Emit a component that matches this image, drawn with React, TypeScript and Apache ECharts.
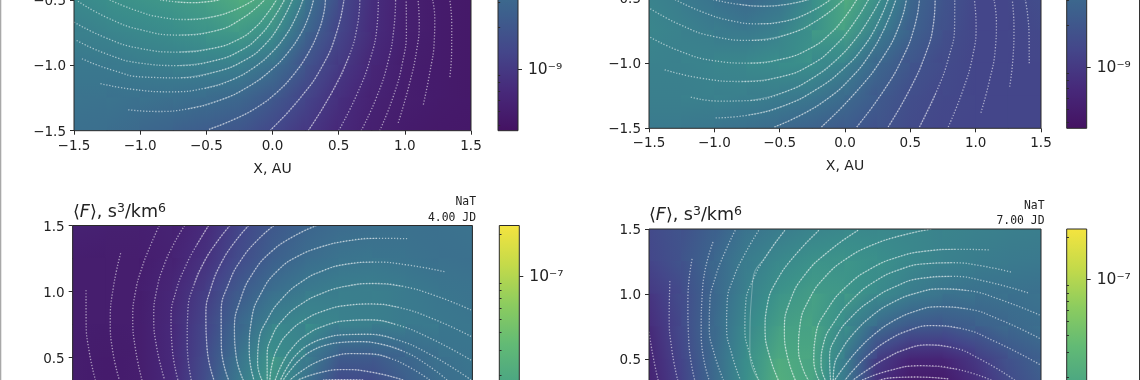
import React, { useEffect, useRef } from "react";
import * as echarts from "echarts";

// Axis ticks
const xTicksAU = [-1.5, 1.5];
const colorbarRange = [-9.44, -6.64]; // log10 F at bottom and top of colour bars
const majorLog = [-9, -8, -7];
const minorLog = [-9.398, -9.301, -9.222, -9.155, -9.097, -9.046, -8.699, -8.523, -8.398, -8.301, -8.222, -8.155, -8.097, -8.046, -7.699, -7.523, -7.398, -7.301, -7.222, -7.155, -7.097, -7.046, -6.699];
const majorLabels: Record<string, string> = { "-9": "10⁻⁹", "-8": "10⁻⁸", "-7": "10⁻⁷" };

// Colour ramp as it appears on the colour bars
const rampColors = ["#441262", "#47297a", "#44468a", "#3d608d", "#3a788e", "#3a8f8b", "#4aa583", "#62ba75", "#8ccc5f", "#c4da4a", "#f4e43f"];

// Field nodes
const xNodes = [-1.5, -1.25, -1, -0.75, -0.5, -0.25, 0, 0.25, 0.5, 0.75, 1, 1.25, 1.5];
const yNodesLower = [-0.5, -0.75, -1, -1.25, -1.5];
const yNodesUpper = [1.5, 1.25, 1, 0.75, 0.5, 0.25];

// Field values: position on the logarithmic colour bar, read by row from the top
const fieldA = [
  [.47, .5, .52, .54, .57, .63, .6, .4, .22, .12, .06, .04, .03],
  [.43, .45, .47, .49, .52, .55, .5, .32, .2, .11, .06, .04, .03],
  [.4, .4, .42, .43, .44, .43, .37, .25, .16, .09, .05, .04, .03],
  [.38, .38, .37, .37, .35, .33, .27, .2, .12, .07, .05, .04, .03],
  [.37, .36, .34, .31, .29, .26, .21, .15, .1, .06, .04, .03, .03],
];
const fieldB = [
  [.45, .42, .38, .34, .38, .48, .62, .52, .33, .26, .2, .2, .23],
  [.46, .44, .42, .4, .44, .52, .58, .42, .31, .24, .2, .2, .21],
  [.44, .44, .45, .47, .49, .5, .44, .33, .26, .22, .2, .2, .2],
  [.43, .43, .44, .43, .42, .4, .35, .28, .23, .21, .2, .2, .2],
  [.41, .41, .39, .37, .34, .31, .28, .25, .22, .2, .2, .2, .2],
];
const fieldC = [
  [.07, .06, .06, .07, .1, .2, .27, .32, .35, .36, .37, .37, .38],
  [.05, .05, .05, .07, .13, .22, .3, .35, .38, .39, .38, .37, .37],
  [.05, .05, .05, .09, .17, .28, .36, .41, .43, .43, .41, .39, .38],
  [.05, .05, .05, .1, .2, .33, .44, .47, .44, .43, .41, .4, .39],
  [.05, .04, .05, .1, .22, .38, .52, .43, .28, .28, .33, .37, .39],
  [.05, .04, .05, .1, .24, .42, .55, .35, .2, .2, .28, .35, .38],
];
const fieldD = [
  [.22, .25, .3, .38, .42, .45, .47, .47, .46, .45, .44, .43, .43],
  [.2, .25, .33, .42, .47, .51, .52, .5, .47, .44, .42, .41, .4],
  [.15, .22, .33, .44, .52, .56, .53, .48, .42, .38, .37, .37, .37],
  [.1, .22, .34, .47, .57, .59, .48, .34, .27, .26, .3, .33, .36],
  [.08, .2, .34, .5, .62, .6, .42, .17, .08, .08, .15, .25, .3],
  [.07, .18, .34, .5, .65, .6, .4, .1, .02, .02, .1, .2, .28],
];

// Streamlines in AU
const streamsA = [
  [[-.85, -.5], [-.72, -.52], [-.61, -.53], [-.5, -.52], [-.4, -.5]],
  [[-1.23, -.5], [-1.03, -.6], [-.85, -.65], [-.65, -.67], [-.42, -.65], [-.25, -.58], [-.14, -.5]],
  [[-1.47, -.51], [-1.28, -.65], [-1.03, -.76], [-.67, -.81], [-.4, -.77], [-.2, -.67], [-.06, -.5]],
  [[-1.5, -.67], [-1.28, -.81], [-1.03, -.9], [-.7, -.94], [-.37, -.88], [-.23, -.81], [-.12, -.72], [-.04, -.62], [.03, -.5]],
  [[-1.48, -.81], [-1.28, -.93], [-1.03, -1.01], [-.72, -1.04], [-.37, -.98], [-.21, -.9], [-.09, -.79], [.02, -.65], [.09, -.5]],
  [[-1.44, -.95], [-1.23, -1.06], [-.98, -1.11], [-.72, -1.13], [-.37, -1.07], [-.18, -.97], [-.04, -.86], [.07, -.71], [.15, -.5]],
  [[-1.3, -1.14], [-1.08, -1.2], [-.77, -1.23], [-.47, -1.2], [-.28, -1.12], [-.12, -1.02], [.01, -.91], [.11, -.78], [.19, -.64], [.23, -.5]],
  [[-1.09, -1.34], [-.9, -1.37], [-.67, -1.37], [-.35, -1.28], [-.16, -1.17], [.01, -1.04], [.13, -.91], [.23, -.76], [.29, -.62], [.31, -.5]],
  [[-.48, -1.49], [-.27, -1.42], [-.1, -1.33], [.03, -1.23], [.17, -1.08], [.28, -.93], [.37, -.73], [.41, -.55], [.4, -.5]],
  [[-.02, -1.5], [.23, -1.29], [.43, -.98], [.52, -.73], [.54, -.5]],
  [[.27, -1.5], [.48, -1.21], [.62, -.91], [.67, -.65], [.66, -.5]],
  [[.5, -1.5], [.66, -1.24], [.77, -.93], [.82, -.65], [.8, -.5]],
  [[.67, -1.5], [.81, -1.27], [.9, -.96], [.94, -.65], [.93, -.5]],
  [[.81, -1.5], [.93, -1.27], [1, -.98], [1.04, -.7], [1.01, -.5]],
  [[.95, -1.44], [1.05, -1.16], [1.11, -.83], [1.13, -.65], [1.1, -.5]],
  [[1.14, -1.3], [1.2, -1.06], [1.24, -.76], [1.24, -.63], [1.21, -.5]],
  [[1.34, -1.09], [1.36, -.88], [1.37, -.68], [1.34, -.5]],
];
const streamsB = [
  [[-1.01, -.51], [-.82, -.56], [-.61, -.58], [-.43, -.56], [-.28, -.51]],
  [[-1.3, -.51], [-1.1, -.63], [-.87, -.69], [-.66, -.72], [-.43, -.7], [-.26, -.63], [-.11, -.51]],
  [[-1.49, -.58], [-1.28, -.73], [-1.02, -.82], [-.71, -.87], [-.41, -.82], [-.15, -.67], [-.01, -.51]],
  [[-1.49, -.8], [-1.28, -.94], [-1.02, -1], [-.74, -1.03], [-.41, -.99], [-.25, -.9], [-.1, -.78], [.01, -.66], [.09, -.51]],
  [[-1.38, -1.05], [-1.15, -1.14], [-.77, -1.18], [-.43, -1.13], [-.24, -1.03], [-.08, -.9], [.1, -.69], [.18, -.51]],
  [[-1.18, -1.26], [-.97, -1.31], [-.77, -1.32], [-.43, -1.26], [-.22, -1.12], [-.03, -.96], [.08, -.83], [.18, -.69], [.27, -.51]],
  [[-.99, -1.42], [-.77, -1.43], [-.46, -1.37], [-.2, -1.22], [.03, -1.03], [.16, -.88], [.26, -.72], [.33, -.51]],
  [[-.54, -1.49], [-.31, -1.41], [-.12, -1.29], [.05, -1.13], [.2, -.95], [.33, -.74], [.39, -.51]],
  [[-.18, -1.49], [.1, -1.26], [.36, -.92], [.47, -.64], [.47, -.51]],
  [[.09, -1.49], [.31, -1.26], [.48, -.92], [.58, -.67], [.57, -.51]],
  [[.33, -1.49], [.51, -1.23], [.66, -.9], [.71, -.64], [.69, -.51]],
  [[.57, -1.49], [.71, -1.26], [.83, -.92], [.87, -.67], [.84, -.51]],
  [[.79, -1.49], [.92, -1.23], [1.01, -.9], [1.03, -.69], [.99, -.51]],
  [[1.04, -1.38], [1.12, -1.15], [1.17, -.85], [1.18, -.67], [1.14, -.51]],
  [[1.26, -1.18], [1.3, -.95], [1.31, -.72], [1.28, -.51]],
  [[1.41, -1], [1.42, -.77], [1.4, -.59], [1.38, -.51]],
];
const streamsC = [
  [[-1.4, 1.01], [-1.42, .77], [-1.39, .52], [-1.33, .33]],
  [[-1.14, 1.29], [-1.22, 1.03], [-1.24, .77], [-1.22, .52], [-1.15, .33]],
  [[-.85, 1.5], [-.93, 1.33], [-.99, 1.18], [-1.04, 1], [-1.07, .82], [-1.06, .6], [-.98, .33]],
  [[-.66, 1.5], [-.75, 1.36], [-.82, 1.23], [-.88, 1.02], [-.92, .82], [-.9, .6], [-.81, .33]],
  [[-.48, 1.5], [-.58, 1.35], [-.66, 1.2], [-.74, 1], [-.79, .82], [-.78, .6], [-.71, .33]],
  [[-.32, 1.5], [-.43, 1.37], [-.52, 1.25], [-.6, 1.06], [-.66, .87], [-.67, .65], [-.61, .33]],
  [[-.18, 1.5], [-.3, 1.37], [-.39, 1.25], [-.47, 1.05], [-.53, .85], [-.53, .57], [-.44, .33]],
  [[.01, 1.5], [-.12, 1.4], [-.24, 1.28], [-.34, 1.08], [-.42, .87], [-.43, .57], [-.33, .33]],
  [[.33, 1.5], [.14, 1.43], [-.02, 1.33], [-.16, 1.17], [-.27, .97], [-.32, .67], [-.3, .5], [-.22, .33]],
  [[1.01, 1.4], [.78, 1.42], [.56, 1.4], [.36, 1.35], [.18, 1.28], [.03, 1.2], [-.1, 1.03], [-.19, .8], [-.22, .52], [-.14, .33]],
  [[1.29, 1.15], [.98, 1.23], [.73, 1.24], [.55, 1.22], [.38, 1.18], [.2, 1.09], [.06, .97], [-.06, .8], [-.14, .6], [-.14, .45], [-.08, .33]],
  [[1.49, .86], [1.18, 1.01], [.96, 1.06], [.76, 1.08], [.55, 1.06], [.36, 1], [.2, .92], [.06, .8], [-.03, .67], [-.07, .52], [-.04, .33]],
  [[1.49, .66], [1.13, .86], [.93, .9], [.73, .92], [.55, .91], [.38, .87], [.23, .8], [.1, .7], [.02, .58], [-.02, .45], [-.02, .33]],
  [[1.49, .48], [1.11, .72], [.9, .78], [.71, .8], [.55, .79], [.38, .76], [.25, .69], [.13, .59], [.06, .46], [.02, .33]],
  [[1.49, .33], [1.11, .62], [.9, .67], [.68, .69], [.52, .68], [.38, .66], [.27, .61], [.18, .55], [.11, .45], [.06, .33]],
  [[1.31, .33], [1.15, .47], [.98, .58], [.8, .62], [.63, .63], [.5, .62], [.38, .6], [.28, .56], [.21, .5], [.13, .41], [.08, .33]],
  [[1.18, .33], [1.03, .44], [.88, .52], [.73, .54], [.58, .54], [.45, .52], [.33, .48], [.22, .41], [.13, .33]],
  [[.98, .33], [.73, .42], [.51, .44], [.31, .39], [.19, .33]],
  [[.68, .33], [.48, .34], [.38, .33]],
];
const streamsD = [
  [[-1.5, .71], [-1.48, .51], [-1.43, .34]],
  [[-1.34, 1.1], [-1.37, .81], [-1.34, .56], [-1.28, .34]],
  [[-1.17, 1.27], [-1.23, .94], [-1.23, .66], [-1.15, .34]],
  [[-1.01, 1.4], [-1.14, 1.02], [-1.16, .71], [-1.04, .34]],
  [[-.84, 1.49], [-.94, 1.3], [-1.01, 1.12], [-1.05, .94], [-1.06, .76], [-1.03, .54], [-.93, .34]],
  [[-.66, 1.49], [-.78, 1.3], [-.88, 1.12], [-.92, .94], [-.93, .76], [-.89, .54], [-.8, .34]],
  [[-.46, 1.49], [-.62, 1.3], [-.74, 1.1], [-.78, .92], [-.79, .74], [-.75, .54], [-.66, .34]],
  [[-.2, 1.49], [-.4, 1.3], [-.56, 1.12], [-.62, .92], [-.64, .71], [-.6, .52], [-.51, .34]],
  [[.1, 1.49], [-.14, 1.34], [-.36, 1.17], [-.45, .95], [-.5, .71], [-.47, .52], [-.38, .34]],
  [[.66, 1.5], [.42, 1.46], [.2, 1.4], [0, 1.29], [-.18, 1.15], [-.3, .97], [-.38, .76], [-.38, .55], [-.33, .41], [-.28, .34]],
  [[1.1, 1.34], [.82, 1.36], [.6, 1.34], [.41, 1.31], [.2, 1.22], [0, 1.1], [-.16, .9], [-.28, .66], [-.27, .48], [-.2, .34]],
  [[1.27, 1.17], [1.05, 1.23], [.82, 1.26], [.6, 1.25], [.41, 1.21], [.22, 1.12], [.05, .99], [-.1, .8], [-.22, .58], [-.21, .45], [-.15, .34]],
  [[1.4, 1.01], [1.07, 1.13], [.77, 1.17], [.57, 1.14], [.38, 1.08], [.2, .97], [.03, .84], [-.09, .68], [-.18, .51], [-.11, .34]],
  [[1.49, .84], [1.12, 1.01], [.92, 1.05], [.74, 1.06], [.55, 1.03], [.36, .96], [.2, .85], [.05, .71], [-.05, .56], [-.13, .41], [-.09, .34]],
  [[1.49, .66], [1.12, .87], [.92, .91], [.71, .93], [.53, .89], [.36, .81], [.22, .7], [.08, .58], [0, .45], [-.08, .34]],
  [[1.49, .46], [1.07, .71], [.86, .77], [.66, .79], [.48, .74], [.31, .66], [.17, .54], [.05, .41], [0, .34]],
  [[1.3, .34], [.99, .57], [.8, .62], [.61, .64], [.46, .59], [.31, .52], [.17, .42], [.06, .34]],
  [[1.12, .34], [.89, .46], [.56, .51], [.28, .41], [.13, .34]],
  [[.79, .35], [.51, .39], [.31, .36], [.26, .34]],
];

function hexRgb(h: string) {
  return [parseInt(h.slice(1, 3), 16), parseInt(h.slice(3, 5), 16), parseInt(h.slice(5, 7), 16)];
}
const ramp = rampColors.map(hexRgb);
function rampAt(t: number) {
  const v = Math.max(0, Math.min(1, t)) * (ramp.length - 1);
  const i = Math.min(ramp.length - 2, Math.floor(v));
  const f = v - i;
  const c = ramp[i].map((a, k) => Math.round(a + (ramp[i + 1][k] - a) * f));
  return `rgb(${c[0]},${c[1]},${c[2]})`;
}
const minus = (s: string) => s.replace("-", "−");

// Evens out the reading error of hand-read streamline points; the end points stay.
function denoise(pts: number[][]) {
  return pts.map((q, i) => {
    if (i === 0 || i === pts.length - 1) return q;
    return [0, 1].map((k) => (pts[i - 1][k] + 2 * q[k] + pts[i + 1][k]) / 4);
  });
}

const fieldRender = (_p: any, api: any) => {
  const a = api.coord([api.value(0), api.value(3)]);
  const b = api.coord([api.value(2), api.value(1)]);
  const w = b[0] - a[0];
  const h = b[1] - a[1];
  const tl = api.value(4), tr = api.value(5), bl = api.value(6), br = api.value(7);
  const m = (tl + tr + bl + br) / 4;
  const gx = (tr + br - tl - bl) / 2 / w;
  const gy = (bl + br - tl - tr) / 2 / h;
  const S = (Math.abs(gx) * w + Math.abs(gy) * h) / 2;
  const n2 = gx * gx + gy * gy;
  let fill: any = rampAt(m);
  if (n2 > 1e-12) {
    const cx = a[0] + w / 2, cy = a[1] + h / 2;
    const ux = (gx / n2) * S, uy = (gy / n2) * S;
    fill = {
      type: "linear", global: true, x: cx - ux, y: cy - uy, x2: cx + ux, y2: cy + uy,
      colorStops: [{ offset: 0, color: rampAt(m - S) }, { offset: 0.5, color: rampAt(m) }, { offset: 1, color: rampAt(m + S) }],
    };
  }
  return { type: "rect", silent: true, shape: { x: a[0] - 0.5, y: a[1] - 0.5, width: w + 1, height: h + 1 }, style: { fill } };
};

const frameRender = (_p: any, api: any) => {
  const a = api.coord([api.value(0), api.value(3)]);
  const b = api.coord([api.value(2), api.value(1)]);
  return { type: "rect", silent: true, shape: { x: a[0], y: a[1], width: b[0] - a[0], height: b[1] - a[1] }, style: { fill: "none", stroke: "#2b2b2b", lineWidth: 1 } };
};

const colorbarRender = (_p: any, api: any) => {
  const a = api.coord([0, api.value(1)]);
  const b = api.coord([1, api.value(0)]);
  const colorStops = rampColors.map((color, i) => ({ offset: i / (rampColors.length - 1), color }));
  return {
    type: "rect", silent: true,
    shape: { x: a[0], y: a[1], width: b[0] - a[0], height: b[1] - a[1] },
    style: { fill: { type: "linear", x: 0, y: 1, x2: 0, y2: 0, colorStops }, stroke: "#2b2b2b", lineWidth: 1 },
  };
};

type Panel = {
  field: number[][]; yNodes: number[]; streams: number[][][]; dense: number[];
  left: number; width: number; top: number; height: number;
  yMin: number; yMax: number; showX: boolean;
  cbLeft: number; cbTop: number; cbHeight: number; cbLabels: number[];
};

const panels: Panel[] = [
  { field: fieldA, yNodes: yNodesLower, streams: streamsA, dense: [-.75, .6], left: 74, width: 397, top: -0.1, height: 130.8, yMin: -1.5, yMax: -0.5, showX: true, cbLeft: 498, cbTop: -261.3, cbHeight: 392, cbLabels: [-9] },
  { field: fieldB, yNodes: yNodesLower, streams: streamsB, dense: [-.85, .75], left: 649, width: 392, top: -1.7, height: 130, yMin: -1.5, yMax: -0.5, showX: true, cbLeft: 1066.7, cbTop: -261.7, cbHeight: 390, cbLabels: [-9] },
  { field: fieldC, yNodes: yNodesUpper, streams: streamsC, dense: [-.6, 1], left: 72.7, width: 399.7, top: 225.5, height: 198, yMin: 0, yMax: 1.5, showX: false, cbLeft: 499.3, cbTop: 225.5, cbHeight: 396, cbLabels: [-7] },
  { field: fieldD, yNodes: yNodesUpper, streams: streamsD, dense: [-.75, 1], left: 649, width: 392, top: 229, height: 195.5, yMin: 0, yMax: 1.5, showX: false, cbLeft: 1066.7, cbTop: 229, cbHeight: 391, cbLabels: [-7] },
];

const titles = [
  { x: 73, y: 210.5, jd: "4.00 JD", rx: 476, y1: 201, y2: 216.7 },
  { x: 649, y: 214, jd: "7.00 JD", rx: 1044.5, y1: 205, y2: 220 },
];

const FONT = "DejaVu Sans";
const TEXT = "#222222";

function buildOption() {
  const grid: any[] = [], xAxis: any[] = [], yAxis: any[] = [], series: any[] = [];
  panels.forEach((p) => {
    const g = grid.length;
    grid.push({ left: p.left, width: p.width, top: p.top, height: p.height, outerBoundsMode: "none", containLabel: false });
    const xi = xAxis.length, yi = yAxis.length;
    xAxis.push({
      gridIndex: g, type: "value", min: xTicksAU[0], max: xTicksAU[1], interval: 0.5, show: p.showX, z: 10,
      splitLine: { show: false }, axisLine: { show: false, onZero: false },
      axisTick: { show: true, length: 4, lineStyle: { color: "#2b2b2b" } },
      axisLabel: { fontFamily: FONT, fontSize: 13.5, color: TEXT, margin: 7, formatter: (v: number) => minus(v.toFixed(1)) },
      name: "X, AU", nameLocation: "middle", nameGap: 30, nameTextStyle: { fontFamily: FONT, fontSize: 14, color: TEXT },
    });
    yAxis.push({
      gridIndex: g, type: "value", min: p.yMin, max: p.yMax, interval: 0.5, z: 10,
      splitLine: { show: false }, axisLine: { show: false, onZero: false },
      axisTick: { show: true, length: 4, lineStyle: { color: "#2b2b2b" } },
      axisLabel: { fontFamily: FONT, fontSize: 13.5, color: TEXT, margin: 8, showMinLabel: p.showX, formatter: (v: number) => minus(v.toFixed(1)) },
    });
    const cells: number[][] = [];
    for (let r = 0; r < p.yNodes.length - 1; r++) {
      for (let c = 0; c < xNodes.length - 1; c++) {
        cells.push([xNodes[c], p.yNodes[r + 1], xNodes[c + 1], p.yNodes[r], p.field[r][c], p.field[r][c + 1], p.field[r + 1][c], p.field[r + 1][c + 1]]);
      }
    }
    series.push({
      type: "custom", xAxisIndex: xi, yAxisIndex: yi, clip: true, silent: true, z: 1,
      renderItem: fieldRender, data: cells, encode: { x: [0, 2], y: [1, 3] },
    });
    p.streams.forEach((raw) => {
      const pts = denoise(denoise(raw));
      series.push({
        type: "line", xAxisIndex: xi, yAxisIndex: yi, data: pts, showSymbol: false, symbol: "none", smooth: 0.5,
        clip: true, silent: true, z: 2, lineStyle: { color: "rgba(255,255,255,0.55)", width: 1.3, type: [1.3, 1.7] },
      });
      const densePts = pts.filter((q) => q[0] >= p.dense[0] && q[0] <= p.dense[1]);
      if (densePts.length > 1) {
        series.push({
          type: "line", xAxisIndex: xi, yAxisIndex: yi, data: densePts, showSymbol: false, symbol: "none", smooth: 0.5,
          clip: true, silent: true, z: 2, lineStyle: { color: "rgba(255,255,255,0.28)", width: 1.1 },
        });
      }
    });
    series.push({
      type: "custom", xAxisIndex: xi, yAxisIndex: yi, clip: false, silent: true, z: 5,
      renderItem: frameRender, data: [[-1.5, -1.5, 1.5, 1.5]], encode: { x: [0, 2], y: [1, 3] },
    });
    // colour bar
    const cg = grid.length;
    grid.push({ left: p.cbLeft, width: 20, top: p.cbTop, height: p.cbHeight, outerBoundsMode: "none", containLabel: false });
    const cx = xAxis.length, cy = yAxis.length;
    xAxis.push({ gridIndex: cg, type: "value", min: 0, max: 1, show: false });
    yAxis.push({
      gridIndex: cg, type: "value", position: "right", min: colorbarRange[0], max: colorbarRange[1], z: 10,
      splitLine: { show: false }, axisLine: { show: false },
      axisTick: { show: true, length: 2.2, customValues: minorLog, lineStyle: { color: "#2b2b2b" } },
      axisLabel: { show: false },
    });
    yAxis.push({
      gridIndex: cg, type: "value", position: "right", min: colorbarRange[0], max: colorbarRange[1], z: 10,
      splitLine: { show: false }, axisLine: { show: false },
      axisTick: { show: true, length: 4, customValues: majorLog, lineStyle: { color: "#2b2b2b" } },
      axisLabel: { show: true, customValues: p.cbLabels, fontFamily: FONT, fontSize: 15.5, color: TEXT, margin: 10, formatter: (v: number) => majorLabels[String(v)] },
    });
    series.push({
      type: "custom", xAxisIndex: cx, yAxisIndex: cy, clip: false, silent: true, z: 1,
      renderItem: colorbarRender, data: [[colorbarRange[0], colorbarRange[1]]], encode: { y: [0, 1] },
    });
    series.push({ type: "line", xAxisIndex: cx, yAxisIndex: cy + 1, data: [], silent: true });
  });

  const graphic: any[] = [
    { type: "rect", shape: { x: 0, y: 0, width: 1.3, height: 380 }, style: { fill: "#a8a8a8" }, silent: true },
    { type: "rect", shape: { x: 1139, y: 0, width: 1, height: 380 }, style: { fill: "#333333" }, silent: true },
  ];
  titles.forEach((t) => {
    graphic.push({
      type: "text", x: t.x, y: t.y, silent: true,
      style: {
        text: "{a|⟨}{i|F}{a|⟩, s}{s|3}{a|/km}{s|6}", verticalAlign: "middle", align: "left",
        rich: {
          a: { fontFamily: FONT, fontSize: 17.5, lineHeight: 20, fill: TEXT },
          i: { fontFamily: FONT, fontSize: 17.5, lineHeight: 20, fontStyle: "italic", fill: TEXT },
          s: { fontFamily: FONT, fontSize: 12.5, lineHeight: 12, verticalAlign: "top", fill: TEXT },
        },
      },
    });
    graphic.push({ type: "text", x: t.rx, y: t.y1, silent: true, style: { text: "NaT", align: "right", verticalAlign: "middle", fontFamily: "DejaVu Sans Mono", fontSize: 11.4, fill: TEXT } });
    graphic.push({ type: "text", x: t.rx, y: t.y2, silent: true, style: { text: t.jd, align: "right", verticalAlign: "middle", fontFamily: "DejaVu Sans Mono", fontSize: 11.4, fill: TEXT } });
  });

  return { animation: false, backgroundColor: "#ffffff", grid, xAxis, yAxis, series, graphic };
}

export default function App() {
  const ref = useRef<HTMLDivElement>(null);
  useEffect(() => {
    const chart = echarts.init(ref.current!, undefined, { renderer: "svg", width: 1140, height: 380 });
    chart.setOption(buildOption() as any);
    return () => chart.dispose();
  }, []);
  return <div ref={ref} style={{ position: "fixed", left: 0, top: 0, width: 1140, height: 380, filter: "blur(0.5px)" }} />;
}
